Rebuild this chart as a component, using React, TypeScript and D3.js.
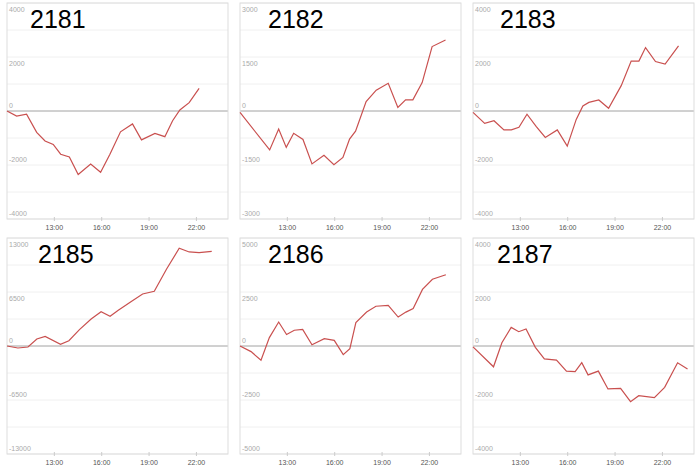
import * as d3 from 'd3';

// panel names, in reading order
const panelNames = ['2181', '2182', '2183', '2185', '2186', '2187'];

// symmetric y extent of each panel
const yMax = [4000, 3000, 4000, 13000, 5000, 4000];

// x ticks (hours)
const hourTicks = [13, 16, 19, 22];

// sample times (decimal hours) and values per panel
const t2181 = [10.0, 10.61, 11.24, 11.88, 12.41, 12.93, 13.4, 13.95, 14.51, 15.3, 15.93, 16.52, 17.19, 17.95, 18.52, 19.37, 20.0, 20.49, 20.95, 21.54, 22.17];
const v2181 = [0, -190, -120, -790, -1110, -1240, -1600, -1700, -2350, -1960, -2270, -1600, -770, -480, -1070, -830, -950, -360, 40, 310, 840];

const t2182 = [10.0, 11.88, 12.45, 12.93, 13.4, 13.99, 14.56, 15.32, 15.95, 16.52, 16.94, 17.32, 17.99, 18.63, 19.39, 20.0, 20.49, 20.95, 21.54, 22.17, 23.02];
const v2182 = [-40, -1080, -500, -1010, -620, -790, -1470, -1230, -1490, -1290, -780, -560, 260, 580, 770, 100, 310, 310, 790, 1790, 1970];

const t2183 = [10.0, 10.74, 11.33, 11.96, 12.43, 12.91, 13.42, 14.01, 14.58, 15.34, 15.97, 16.54, 16.96, 17.34, 17.97, 18.59, 19.39, 20.02, 20.51, 20.93, 21.56, 22.17, 23.02];
const v2183 = [-50, -460, -360, -700, -700, -600, -120, -580, -980, -700, -1300, -310, 190, 320, 410, 100, 940, 1850, 1850, 2350, 1830, 1740, 2410];

const t2185 = [10.0, 10.69, 11.33, 11.89, 12.42, 13.39, 13.92, 14.59, 15.33, 15.96, 16.53, 17.05, 17.85, 18.59, 19.33, 20.11, 20.91, 21.54, 22.17, 22.97];
const v2185 = [0, -240, -120, 840, 1160, 200, 640, 1970, 3250, 4130, 3570, 4290, 5340, 6260, 6580, 9270, 11760, 11320, 11230, 11400];

const t2186 = [10.0, 10.7, 11.33, 11.86, 12.45, 12.95, 13.44, 13.97, 14.56, 15.34, 15.97, 16.54, 16.96, 17.34, 18.02, 18.61, 19.39, 20.02, 20.51, 20.97, 21.56, 22.19, 23.04];
const v2186 = [0, -260, -660, 390, 1110, 530, 730, 770, 60, 340, 260, -400, -120, 1080, 1570, 1840, 1880, 1340, 1570, 1730, 2620, 3090, 3300];

const t2187 = [10.0, 11.3, 11.83, 12.42, 12.9, 13.36, 13.95, 14.52, 15.29, 15.92, 16.47, 16.89, 17.29, 17.94, 18.55, 19.35, 19.98, 20.5, 21.49, 22.14, 22.96, 23.59];
const v2187 = [-30, -770, 120, 690, 530, 630, -50, -480, -520, -930, -950, -620, -1070, -930, -1590, -1570, -2060, -1840, -1910, -1530, -620, -850];

const times = [t2181, t2182, t2183, t2185, t2186, t2187];
const values = [v2181, v2182, v2183, v2185, v2186, v2187];

// layout
const W = 700;
const H = 471;
const panelW = 221;
const panelH = 216;
const lefts = [7, 240, 473];
const tops = [3, 238];
const titleDx = [23, 28, 27, 31, 28, 24];

function Panel({ i }: { i: number }) {
  const x0 = lefts[i % 3];
  const y0 = tops[Math.floor(i / 3)];
  const m = yMax[i];

  const x = d3.scaleLinear().domain([10, 24]).range([x0, x0 + panelW]);
  const y = d3.scaleLinear().domain([m, -m]).range([y0, y0 + panelH]);

  const pts = times[i].map((t, k) => [t, values[i][k]] as [number, number]);
  const line = d3.line<[number, number]>()
    .x(d => x(d[0]))
    .y(d => y(d[1]));

  const grid = d3.range(-m, m + 1, m / 4);
  const labels = [m, m / 2, 0, -m / 2, -m];

  return (
    <g>
      {grid.map(g => (
        <line key={g} x1={x0} x2={x0 + panelW} y1={y(g)} y2={y(g)}
          stroke="#f0f0f0" strokeWidth={1} />
      ))}
      <line x1={x0} x2={x0 + panelW} y1={y(0)} y2={y(0)} stroke="#aaa" strokeWidth={1.2} />
      <rect x={x0} y={y0} width={panelW} height={panelH} fill="none" stroke="#ddd" strokeWidth={1} />
      {labels.map(l => (
        <text key={l} x={x0 + 2} y={l > 0 ? y(l) + 8.5 : y(l) - 3}
          fontSize={7} fill="#aaa" fontFamily="Liberation Sans, Arial, sans-serif">
          {l}
        </text>
      ))}
      {hourTicks.map(h => (
        <g key={h}>
          <line x1={x(h)} x2={x(h)} y1={y0 + panelH - 2} y2={y0 + panelH + 2} stroke="#ccc" />
          <text x={x(h)} y={y0 + panelH + 10.5} textAnchor="middle" fontSize={7}
            fill="#555" fontFamily="Liberation Sans, Arial, sans-serif">
            {`${h}:00`}
          </text>
        </g>
      ))}
      <path d={line(pts) ?? ''} fill="none" stroke="#c9504f" strokeWidth={1.2} />
      <text x={x0 + titleDx[i]} y={y0 + 24.5} fontSize={25} fill="#000"
        fontFamily="Liberation Sans, Arial, sans-serif">
        {panelNames[i]}
      </text>
    </g>
  );
}

export default function App() {
  return (
    <svg width={W} height={H} style={{ position: 'absolute', left: 0, top: 0, background: '#fff' }}>
      {panelNames.map((_, i) => <Panel key={i} i={i} />)}
    </svg>
  );
}
